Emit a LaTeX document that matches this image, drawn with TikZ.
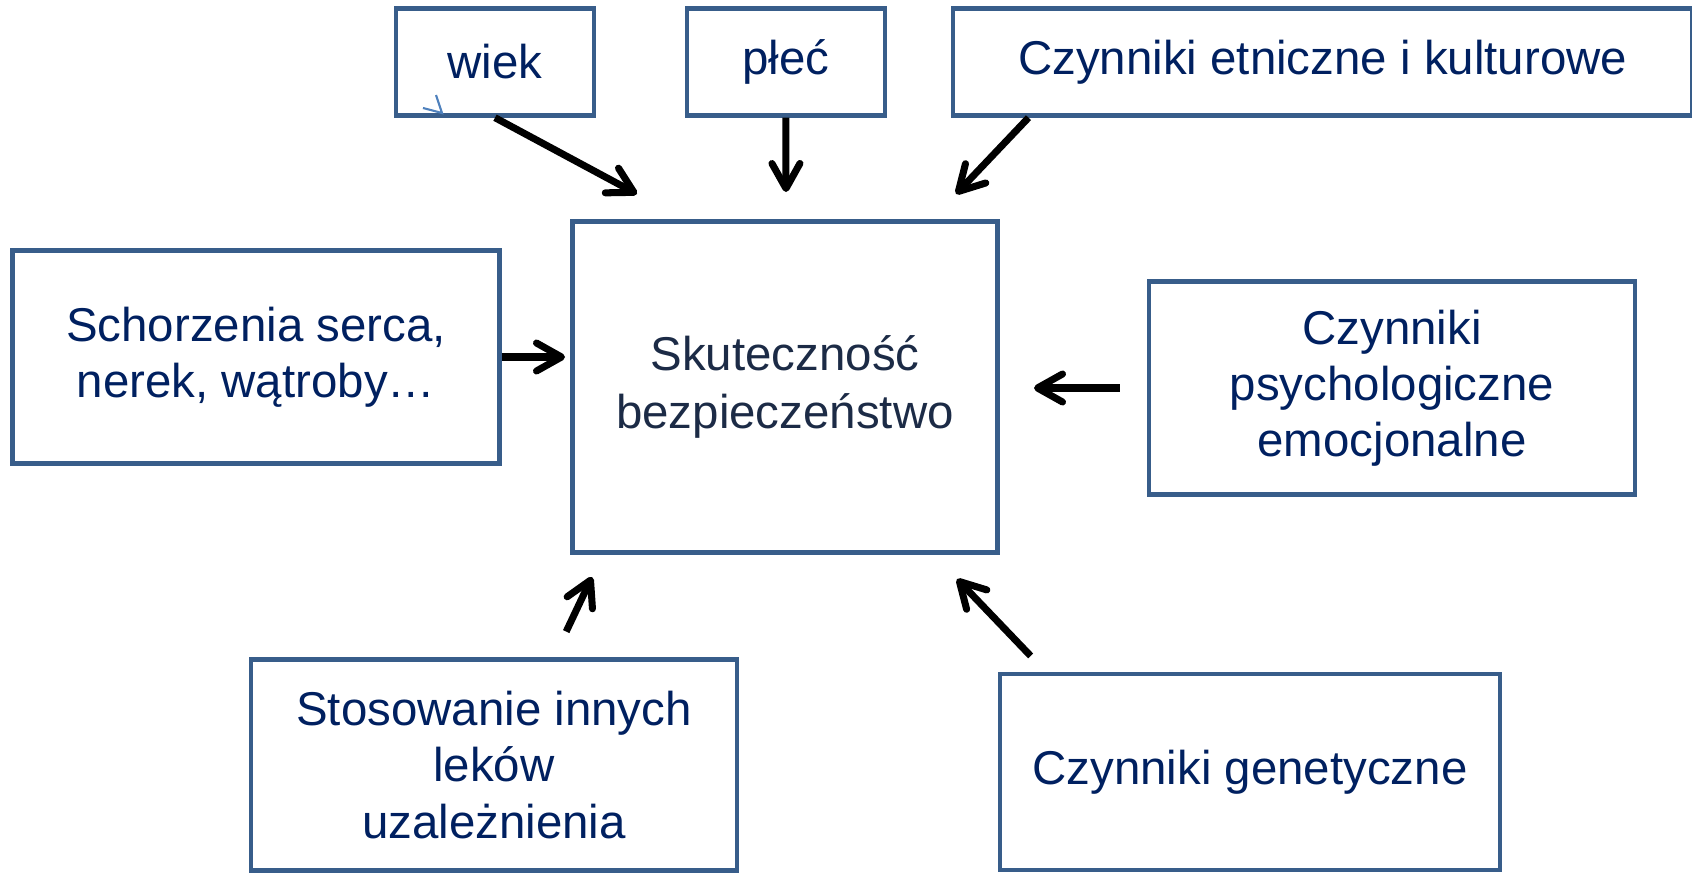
\documentclass[tikz,border=0pt]{standalone}
\usepackage{fontspec}
\setmainfont{Liberation Sans}
\usetikzlibrary{arrows.meta,positioning}

\definecolor{boxline}{HTML}{385D8A}
\definecolor{boxtext}{HTML}{002060}
\definecolor{maintext}{HTML}{1C2B46}
\definecolor{markblue}{HTML}{4F81BD}

\tikzset{
  factor/.style={draw=boxline, line width=2.5pt, rectangle, align=center,
    text=boxtext, inner sep=0pt, font=\fontsize{27}{32}\selectfont},
  outcome/.style={factor, text=maintext, font=\fontsize{27}{33.5}\selectfont},
  infl/.style={-{Straight Barb[length=0.5cm,width=0.56cm,round]}, line width=4pt, black},
}

\begin{document}
\begin{tikzpicture}[x=0.02cm, y=-0.02cm]
\useasboundingbox (0,0) rectangle (1692,872);

% centre
\node[outcome, minimum width=8.5cm, minimum height=6.62cm] (eff) at (785,387) {Skuteczność\\bezpieczeństwo};

% top row
\node[factor, minimum width=3.96cm, minimum height=2.14cm] (age) at (495,62) {wiek};
\node[factor, minimum width=3.96cm, minimum height=2.14cm] (sex) [right=1.77cm of age] {płeć};
\node[factor, minimum width=14.8cm, minimum height=2.14cm] (eth) [right=1.27cm of sex] {Czynniki etniczne i kulturowe};

% sides and bottom
\node[factor, minimum width=9.74cm, minimum height=4.26cm] (ill) at (256,357) {Schorzenia serca,\\nerek, wątroby…};
\node[factor, minimum width=9.72cm, minimum height=4.26cm] (psy) at (1392,388) {Czynniki\\psychologiczne\\emocjonalne};
\node[factor, minimum width=9.72cm, minimum height=4.22cm] (drug) at (494,765) {Stosowanie innych\\leków\\uzależnienia};
\node[factor, minimum width=10cm, minimum height=3.92cm] (gen) at (1250,772) {Czynniki genetyczne};

% arrow tips
\coordinate (ageTip) at (637,194);
\coordinate (sexTip) at (786,192);
\coordinate (ethTip) at (956,194);
\coordinate (illTip) at (565,357);
\coordinate (psyTip) at (1034,388);
\coordinate (drugTip) at (592,577);
\coordinate (genTip) at (957,579);

\draw[infl] (age.south) -- (ageTip);
\draw[infl] (sex.south) -- (sexTip);
\draw[infl] ([xshift=1.56cm]eth.south west) -- (ethTip);
\draw[infl] (ill.east) -- (illTip);
\draw[infl, shorten <=0.54cm] (psy.west) -- (psyTip);
\draw[infl, shorten <=0.57cm] ([xshift=1.2cm]drug.north) -- (drugTip);
\draw[infl, shorten <=0.44cm] ([xshift=0.96cm]gen.north west) -- (genTip);

% stray mark under wiek
\draw[markblue, line width=1.2pt] (423,108) -- (442,113) -- (436,95);
\end{tikzpicture}
\end{document}
